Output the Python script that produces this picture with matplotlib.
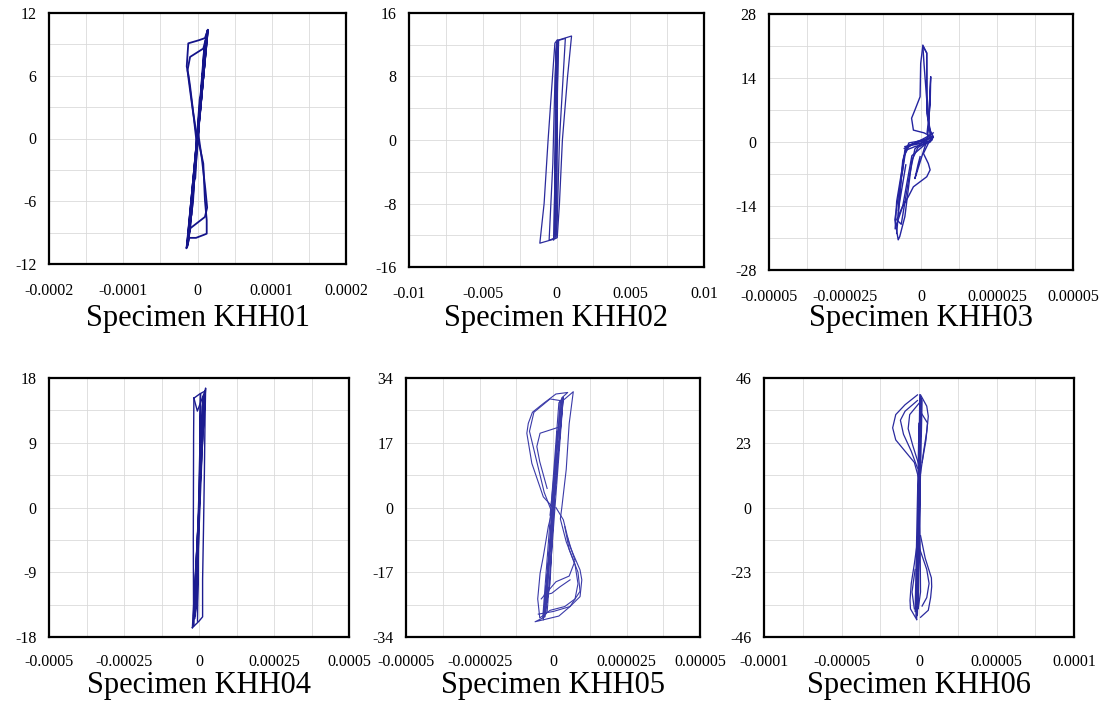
import matplotlib
matplotlib.use("Agg")
import matplotlib.pyplot as plt

plt.rcParams['font.family'] = ['Liberation Serif', 'DejaVu Serif']

# ---- data (x in scaled units, y in load units) ----
titles = ["Specimen KHH01", "Specimen KHH02", "Specimen KHH03",
          "Specimen KHH04", "Specimen KHH05", "Specimen KHH06"]

# x values of each loop are in units of x_scale
x_scales = [1e-5, 1e-3, 1e-5, 1e-5, 1e-5, 1e-5]
x_limits = [0.0002, 0.01, 0.00005, 0.0005, 0.00005, 0.0001]
y_limits = [12, 16, 28, 18, 34, 46]
x_labels = [["-0.0002", "-0.0001", "0", "0.0001", "0.0002"],
            ["-0.01", "-0.005", "0", "0.005", "0.01"],
            ["-0.00005", "-0.000025", "0", "0.000025", "0.00005"],
            ["-0.0005", "-0.00025", "0", "0.00025", "0.0005"],
            ["-0.00005", "-0.000025", "0", "0.000025", "0.00005"],
            ["-0.0001", "-0.00005", "0", "0.00005", "0.0001"]]

khh01 = [
    ([0, 0.5, 0.3, -0.5, -0.3, 0], [0, 4, 3.8, -4, -3.8, 0]),
    ([0, 1.0, 0.8, -1.0, -0.8, 0], [0, 7.5, 7.2, -7.6, -7.3, 0]),
    ([0, 1.4, 1.3, 1.2, -1.4, -1.5, -1.3, 0], [0, 10.4, 10.2, 9.9, -10.3, -10.5, -10.0, 0]),
    ([0.1, 1.35, 1.2, -1.35, -1.2, 0.2], [0.5, 10.2, 9.8, -10.2, -9.8, 0.8]),
    ([-1.45, 1.38, 1.25, -1.3, -1.15, 1.3, 1.1, -1.4, -1.25, 1.35],
     [-10.3, 10.35, 10.0, -10.0, -9.2, 10.1, 9.0, -10.2, -9.8, 10.3]),
    ([-1.0, 0.9, 0.7, -0.9, -1.1, 1.1, 0.5, -0.6], [-8.8, 8.6, 6.0, -7.0, -9.0, 9.4, 4.5, -5.0]),
    ([0.0, 1.4, 1.0, 0.2, -1.24, -1.45, -1.2, -1.0, -0.56, -0.1, -0.6, -1.4, -1.2,
      -0.2, 0.9, 1.24, 1.24, 1.0, 0.78, 0.3, 0.0],
     [0.0, 10.4, 9.6, 9.4, 9.1, 6.9, 6.0, 5.0, 2.4, 0.2, -6.0, -10.4, -9.5,
      -9.5, -9.2, -9.1, -7.8, -5.9, -2.4, -0.8, 0]),
    ([0.3, 1.3, 0.78, -1.0, -1.35, -1.0, -0.5, -0.1], [2, 10.0, 8.6, 7.8, 6.5, 4.6, 2.0, -0.5]),
    ([-0.3, -1.3, -1.0, 1.0, 1.3, 1.05, 0.6, 0.1], [-2, -10, -8.6, -7.5, -6.6, -4.8, -2.0, 0.5]),
]

khh02 = [
    ([0.0, 0.1, 0.15, 1.02, 0.75, 0.4, 0.2, 0.05, -0.2, -1.13, -0.84, -0.57, -0.27, -0.11, 0.05],
     [0, 10, 12.6, 13.1, 8, 0, -8, -12.3, -12.5, -13.0, -8, 0, 8, 12.2, 12.6]),
    ([-0.05, 0.05, 0.6, 0.2, 0.05, -0.05, -0.5, -0.25, -0.1, 0.0],
     [-5, 12.5, 12.8, 0, -10, -12.4, -12.6, -3, 8, 12]),
    ([-0.1, 0.05, 0.0, -0.12, -0.05, 0.05, -0.05, -0.15, -0.3],
     [-12, 12.3, 11.5, -11, -12.2, 12.5, 11, -12.4, -12.5]),
    ([-0.2, -0.05, 0.1, 0.0, -0.1], [-12.6, 0, 12.4, 0, -12.0]),
    ([0.02, 0.08, 0.0, -0.08, 0.1], [-12.0, 12.0, 12.2, -11.5, 12.6]),
]

khh03 = [
    ([0.35, 0.25, 0.18, 0.1, 0.06, 0.19, 0.19, 0.3, 0.4, 0.3, -0.3, -0.53, -0.6, -0.75, -0.86,
      -0.75, -0.7, -0.53, -0.3, -0.1, 0.35],
     [0.5, 4, 10, 17, 21.2, 19.4, 6.3, 2.6, 1.2, 0, -0.5, -1.7, -6, -12, -17,
      -21.4, -20.7, -16.3, -4, -1.2, 0.5]),
    ([0.4, 0.1, -0.25, -0.31, -0.2, -0.03, -0.01, 0.06, 0.19, 0.2, 0.3, -0.4, -0.55, -0.8, -0.85, -0.6, -0.3, 0.4],
     [1, 2.0, 2.6, 5.2, 7.0, 9.9, 17.2, 21.0, 19.5, 10, 1.5, -1, -3, -13, -19, -14, -3, 1]),
    ([0.35, 0.24, 0.08, 0.24, 0.3, 0.19, -0.25, -0.42, -0.6, -0.8, -0.65, -0.4, -0.2, 0.4],
     [0.4, -0.3, -2.5, -4.7, -6.1, -7.6, -9.8, -12, -14, -17, -18, -8, -1.5, 2]),
    ([0.2, 0.3, 0.32, 0.3, 0.25, 0.2, -0.4, -0.55, -0.7, -0.75],
     [2, 8, 14.3, 12, 3, 0.5, -0.2, -3, -10, -16]),
    ([-0.53, 0.0, 0.4, 0.2, -0.2, -0.5, -0.65, -0.8],
     [-1.0, -0.3, 1.2, -0.3, -1.0, -1.8, -8, -20]),
    ([-0.55, -0.1, 0.35, 0.1, -0.45, -0.6, -0.75, -0.5],
     [-1.4, 0.2, 1.0, 0.3, -0.8, -4, -15, -5]),
    ([-0.03, -0.1, -0.2, 0.2, 0.1], [-3.2, -5, -8, 0.5, 0]),
]

khh04 = [
    ([-2.2, 2.2, 2.0, 1.8, 1.5, 1.2, 1.2, 0.0, -2.2],
     [-16.7, 16.6, 12, 5, -3, -10, -15.2, -15.8, -16.7]),
    ([-1.7, 0.3, 2.1, 1.0, 0.0, -1.0, -1.6, -1.8, -1.9, -1.8, -1.7],
     [15.2, 15.8, 16.2, 8, 0, -8, -14, -16.5, -4.5, 10, 15.2]),
    ([-1.2, 1.5, 1.0, -1.5, -1.0, 1.8, -0.55, -1.7],
     [-15, 15.5, 14, -15.5, -14, 16, 13.4, 15.2]),
    ([-0.5, 0.5, 0.0, -0.6], [-15.8, 15.8, 0, -14]),
    ([-2.0, 2.0, 1.7, -1.8], [-16.2, 16.3, 15.0, -15.0]),
]

khh05 = [
    ([-0.33, 0.35, 0.2, -0.35, -0.2, 0.35, 0.25, -0.3, -0.1, 0.15, -0.25, 0.3],
     [-29.5, 28.7, 27.5, -29, -27.5, 29, 28, -28.5, -20, 20, -28.0, 28.2]),
    ([-0.1, 0.3, 0.5, 0.1, -0.33, -0.7, -0.84, -0.89, -0.72, -0.33, 0, -0.27, -0.61, 0.2,
      0.58, 0.92, 0.98, 0.92, 0.58, 0.35, 0.1],
     [-2, 28.8, 30.2, 29.8, 27.3, 25, 22.1, 19.5, 11.6, 2.8, 0, -28.7, -30, -28.5,
      -26, -23.4, -19, -16.4, -10.3, -3.2, 0]),
    ([0, 0.25, 0.69, 0.55, 0.45, 0.3, 0.25, 0.45, 0.75, 0.85, 0.75, 0.4, -0.1, -0.45,
      -0.52, -0.44, -0.33, -0.16, 0],
     [0, 27.5, 30.4, 22, 10, 0, -3, -9, -15, -20, -24, -26, -27, -29,
      -24, -17.3, -12.9, -5, 0]),
    ([0.3, -0.1, -0.65, -0.8, -0.55, -0.3, -0.05],
     [28, 28.5, 25, 20, 12, 4, -1]),
    ([0.24, -0.44, -0.55, -0.45, -0.2],
     [21.2, 19.5, 16, 12, 5]),
    ([0.58, 0.24, -0.04, -0.3],
     [-19, -20.8, -22.5, -23]),
    ([-0.4, 0.1, 0.55, 0.75, 0.5],
     [-24, -19.5, -18, -14, -8]),
    ([-0.5, 0.01, 0.58, 0.92, 0.85, 0.55, 0.4],
     [-28, -27.3, -26, -22, -17, -11, -5]),
]

khh06 = [
    ([-0.15, 0.05, 0.2, -0.1, -0.2, 0.1, 0.15, -0.25, 0.0, 0.1, -0.05, 0.12],
     [-39.8, 40.1, 38, -38, -39, 39, 36, -37, 30, -30, -36, 38]),
    ([-0.1, -0.9, -1.5, -1.7, -1.5, -0.9, -0.3, 0],
     [40, 36.5, 33, 28.3, 24, 20, 16, 10]),
    ([-0.1, -0.9, -1.2, -1.0, -0.5, -0.1],
     [38, 34.2, 31, 26, 20, 14]),
    ([0, -0.6, -0.7, -0.4, 0], [37, 33, 28, 22, 15]),
    ([0.1, 0.5, 0.6, 0.5, 0.3, 0.1], [40, 36, 32.4, 27, 20, 12]),
    ([0.1, 0.55, 0.45, 0.2], [34, 30, 24, 16]),
    ([0.1, 0.4, 0.8, 0.82, 0.75, 0.6, 0.1], [-10, -18, -25, -28.1, -32, -36.5, -39]),
    ([0, 0.5, 0.65, 0.5, 0.2], [-14, -22, -27, -32, -35]),
    ([-0.15, -0.55, -0.58, -0.5, -0.3, -0.1], [-39.8, -36, -33, -27, -20, -12]),
    ([-0.3, -0.45, -0.25], [-36, -30, -22]),
]

loops = [khh01, khh02, khh03, khh04, khh05, khh06]

# axes boxes in pixels: left, top, right, bottom
boxes = [(49, 13, 346, 264), (409, 13, 704, 267), (769, 14, 1073, 270),
         (49, 378, 349, 637), (406, 378, 700, 637), (764, 378, 1074, 637)]
title_y = [319, 319, 319, 686, 686, 686]
line_colors = ['#14148a', '#2b2b9c', '#2424a0', '#1c1c90', '#3a3aa8', '#2a2a9e']
line_widths = [1.3, 0.9, 1.0, 1.0, 0.8, 0.9]

W, H = 1105, 707
fig = plt.figure(figsize=(W / 100, H / 100), dpi=100)

for i in range(6):
    l, t, r, b = boxes[i]
    ax = fig.add_axes([l / W, 1 - b / H, (r - l) / W, (b - t) / H])
    for xs, ys in loops[i]:
        ax.plot([v * x_scales[i] for v in xs], ys, color=line_colors[i],
                lw=line_widths[i], solid_joinstyle='round')
    xl, yl = x_limits[i], y_limits[i]
    ax.set_xlim(-xl, xl)
    ax.set_ylim(-yl, yl)
    ax.set_xticks([-xl, -xl / 2, 0, xl / 2, xl])
    ax.set_xticklabels(x_labels[i])
    ax.set_xticks([-xl * 0.75, -xl * 0.25, xl * 0.25, xl * 0.75], minor=True)
    ax.set_yticks([-yl, -yl / 2, 0, yl / 2, yl])
    ax.set_yticklabels([str(int(v)) for v in [-yl, -yl / 2, 0, yl / 2, yl]])
    ax.set_yticks([-yl * 0.75, -yl * 0.25, yl * 0.25, yl * 0.75], minor=True)
    ax.grid(True, which='both', color='#dadada', lw=0.6)
    ax.set_axisbelow(True)
    xpad = 14 if i < 3 else 12
    ax.tick_params(axis='x', which='both', length=0, pad=xpad, labelsize=11.5)
    ax.tick_params(axis='y', which='both', length=0, pad=9, labelsize=11.5)
    for s in ax.spines.values():
        s.set_linewidth(1.6)
        s.set_color('black')
    fig.text((l + r) / 2 / W, 1 - title_y[i] / H, titles[i], ha='center', va='center',
             fontsize=22)

fig.savefig("out.png", dpi=100)
